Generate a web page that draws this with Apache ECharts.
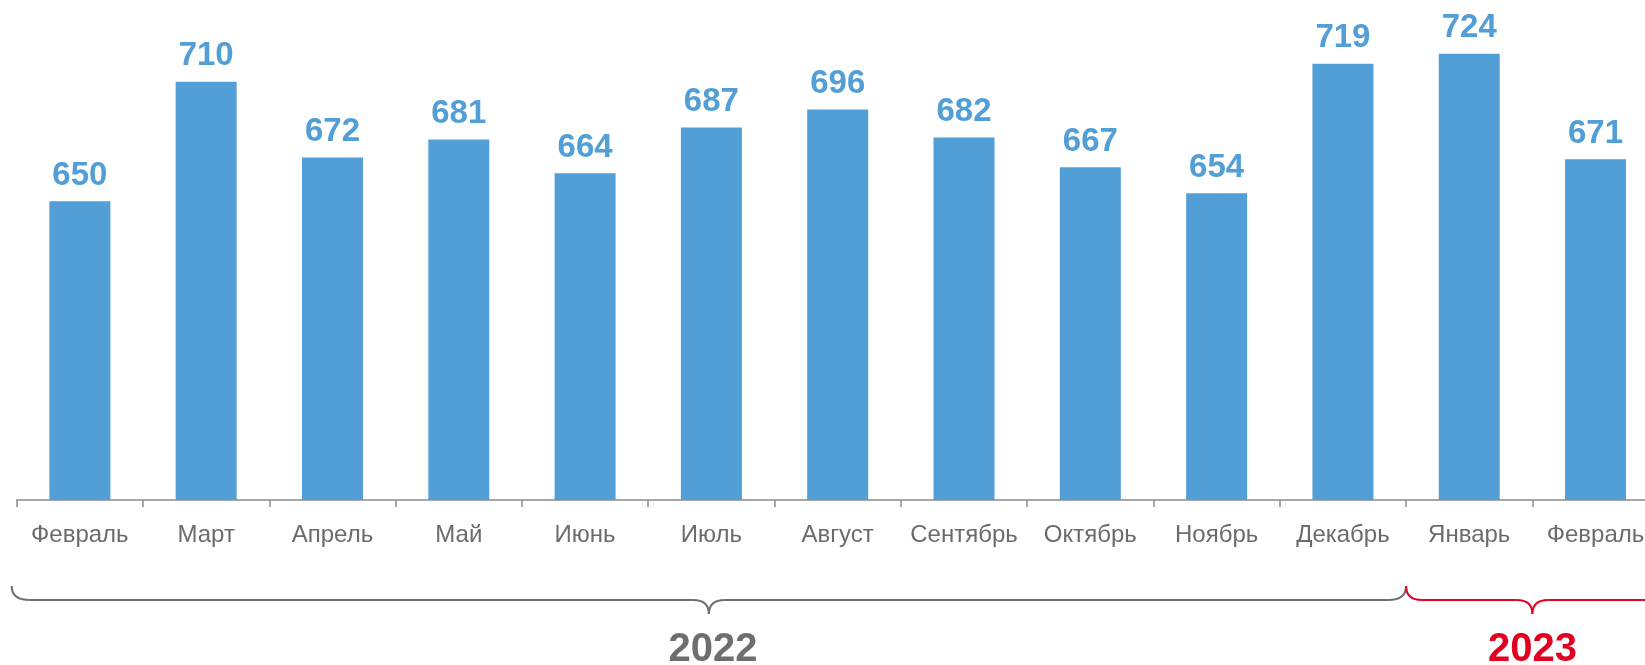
<!DOCTYPE html>
<html>
<head>
<meta charset="utf-8">
<script src="https://cdn.jsdelivr.net/npm/echarts@6/dist/echarts.min.js"></script>
<style>
html,body{margin:0;padding:0;background:#fff;}
#c{width:1645px;height:665px;}
</style>
</head>
<body>
<div id="c"></div>
<script>
const categories = ['Февраль','Март','Апрель','Май','Июнь','Июль','Август','Сентябрь','Октябрь','Ноябрь','Декабрь','Январь','Февраль'];
const values = [650,710,672,681,664,687,696,682,667,654,719,724,671];
const yearLabels = ['2022','2023'];
const yearStart = [0, 11];
const yearEnd = [10, 12];
const yearColors = ['#6e6e6e','#E1001F'];

const FONT = '"Liberation Sans", Arial, sans-serif';
const chart = echarts.init(document.getElementById('c'), null, {renderer:'canvas'});
chart.setOption({
  animation:false,
  grid:{left:16.7, width:1642, top:2, bottom:165, containLabel:false, outerBoundsMode:'none'},
  xAxis:{
    type:'category',
    data:categories,
    boundaryGap:true,
    axisLine:{show:true, lineStyle:{color:'#8a8a8a', width:1.5}},
    axisTick:{show:true, length:7, alignWithLabel:false, lineStyle:{color:'#8a8a8a', width:1.5}},
    axisLabel:{color:'#6b6b6b', fontSize:24, fontFamily:FONT, margin:23, interval:0, hideOverlap:false}
  },
  yAxis:{type:'value', min:500, max:750, show:false, splitLine:{show:false}},
  series:[{
    type:'bar',
    data:values,
    barWidth:61,
    itemStyle:{color:'#529FD7'},
    label:{show:true, position:'top', distance:9, color:'#529FD7', fontSize:33, fontWeight:'bold', fontFamily:FONT}
  }]
});

const c0 = chart.convertToPixel({xAxisIndex:0}, 0);
const c1 = chart.convertToPixel({xAxisIndex:0}, 1);
const bw = c1 - c0;
const axisY = chart.convertToPixel({yAxisIndex:0}, 500);
const yTop = axisY + 86, yLine = axisY + 100, yTip = axisY + 114;

function brace(x0, x1, xc, r, c, color){
  const st = {stroke:color, lineWidth:2, fill:null};
  return [
    {type:'bezierCurve', shape:{x1:x0, y1:yTop, cpx1:x0, cpy1:yLine, x2:x0+r, y2:yLine}, style:st},
    {type:'line', shape:{x1:x0+r, y1:yLine, x2:xc-c, y2:yLine}, style:st},
    {type:'bezierCurve', shape:{x1:xc-c, y1:yLine, cpx1:xc, cpy1:yLine, x2:xc, y2:yTip}, style:st},
    {type:'bezierCurve', shape:{x1:xc, y1:yTip, cpx1:xc, cpy1:yLine, x2:xc+c, y2:yLine}, style:st},
    {type:'line', shape:{x1:xc+c, y1:yLine, x2:x1-r, y2:yLine}, style:st},
    {type:'bezierCurve', shape:{x1:x1-r, y1:yLine, cpx1:x1, cpy1:yLine, x2:x1, y2:yTop}, style:st}
  ];
}

let graphics = [];
for (let g = 0; g < yearLabels.length; g++) {
  let x0 = chart.convertToPixel({xAxisIndex:0}, yearStart[g]) - bw/2;
  let x1 = chart.convertToPixel({xAxisIndex:0}, yearEnd[g]) + bw/2;
  if (g === 0) x0 -= 5;
  let xc = (x0 + x1) / 2;
  if (g === 1) { xc = chart.convertToPixel({xAxisIndex:0}, yearStart[g]) + bw/2; x1 = 2*xc - x0; }
  graphics = graphics.concat(brace(x0, x1, xc, g===0?18:16, 16, yearColors[g]));
  graphics.push({
    type:'text',
    x: xc + (g===0?4:0), y: axisY + 150,
    style:{text:yearLabels[g], fill:yearColors[g], font:'bold 40px ' + FONT, textAlign:'center', textVerticalAlign:'middle', align:'center', verticalAlign:'middle'}
  });
}
chart.setOption({graphic:graphics});
</script>
</body>
</html>
